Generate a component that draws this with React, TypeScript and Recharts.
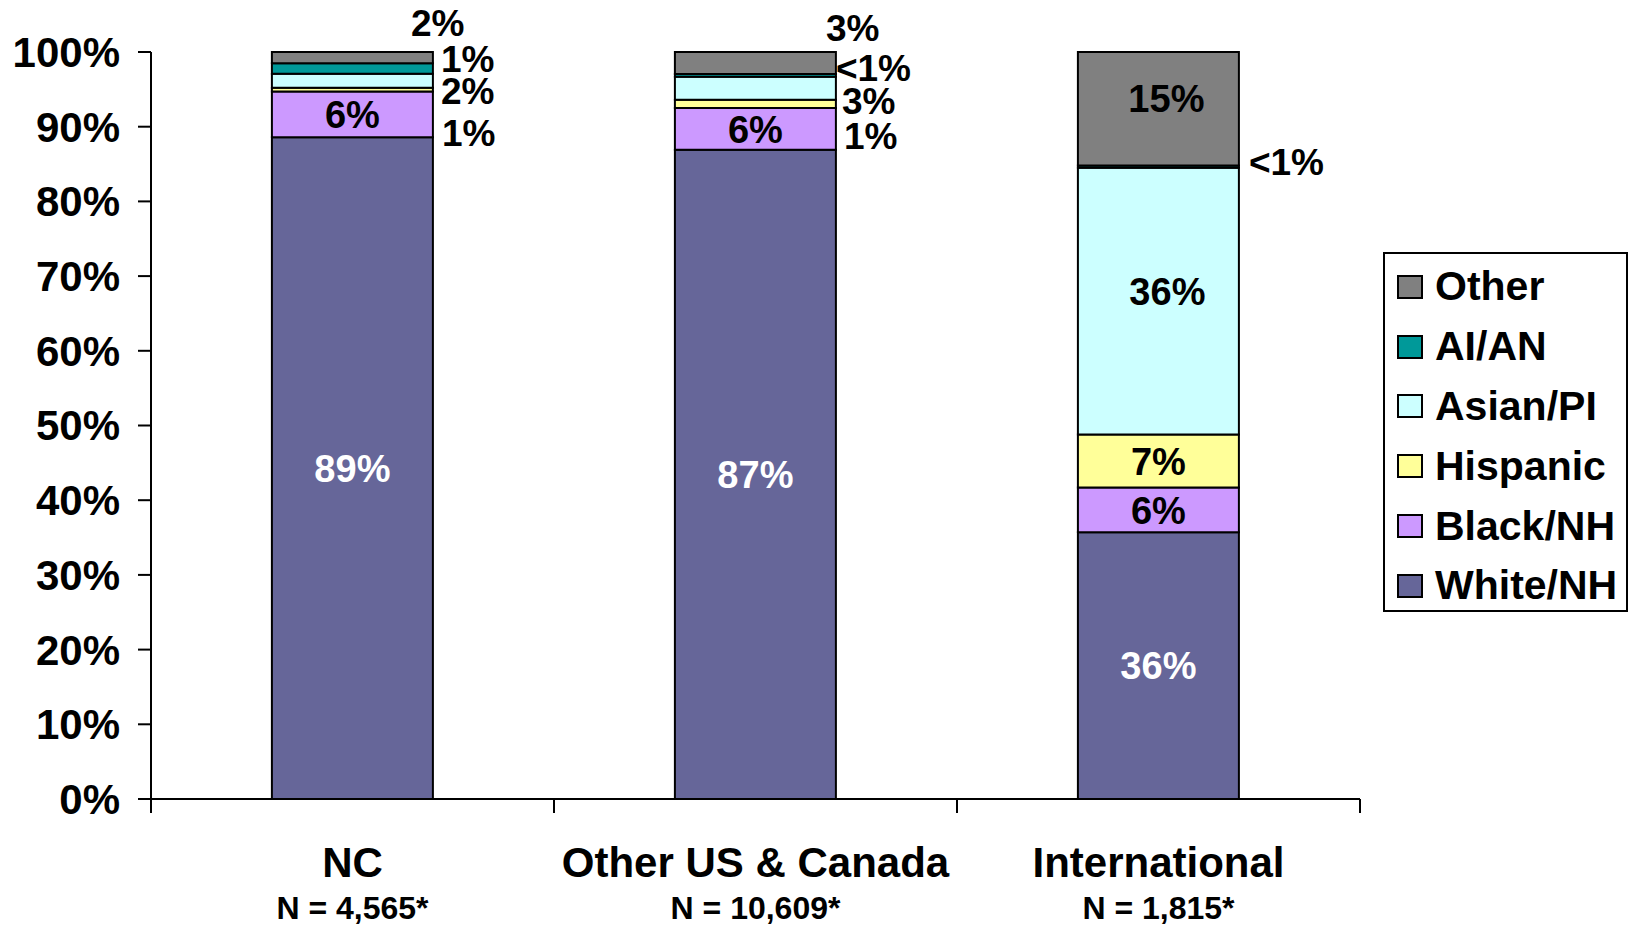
import React from 'react';
import { BarChart, Bar, XAxis, YAxis, Legend, LabelList } from 'recharts';

const categories = ['NC', 'Other US & Canada', 'International'];
const sampleSizes = ['N = 4,565*', 'N = 10,609*', 'N = 1,815*'];

// percent of students, bottom of the stack first
const whiteNH = [88.6, 86.9, 35.7];
const blackNH = [6.1, 5.6, 6.0];
const hispanic = [0.5, 1.1, 7.1];
const asianPI = [1.9, 3.1, 35.7];
const aiAN = [1.4, 0.35, 0.3];
const other = [1.5, 2.95, 15.2];

// printed data labels
const whiteText = ['89%', '87%', '36%'];
const blackText = ['6%', '6%', '6%'];
const hispanicText = ['1%', '1%', '7%'];
const asianText = ['2%', '3%', '36%'];
const aiANText = ['1%', '<1%', '<1%'];
const otherText = ['2%', '3%', '15%'];

const yTicks = [0, 10, 20, 30, 40, 50, 60, 70, 80, 90, 100];

const FONT = '"Liberation Sans", Arial, Helvetica, sans-serif';
const W = 1629;
const H = 926;
const M = { top: 52, right: 269, bottom: 0, left: 0 };
const Y_AXIS_W = 151;
const X_AXIS_H = 127;

const series = [
  { key: 'white', name: 'White/NH', color: '#666699', values: whiteNH, text: whiteText, textColor: '#fff' },
  { key: 'black', name: 'Black/NH', color: '#CC99FF', values: blackNH, text: blackText, textColor: '#000' },
  { key: 'hispanic', name: 'Hispanic', color: '#FFFF99', values: hispanic, text: hispanicText, textColor: '#000' },
  { key: 'asian', name: 'Asian/PI', color: '#CCFFFF', values: asianPI, text: asianText, textColor: '#000' },
  { key: 'aian', name: 'AI/AN', color: '#009999', values: aiAN, text: aiANText, textColor: '#000' },
  { key: 'other', name: 'Other', color: '#808080', values: other, text: otherText, textColor: '#000' },
];

// where each data label sits: inside the segment, or to the right of the bar (out)
type Place = { out?: boolean; dx: number; dy: number };
const IN: Place = { dx: 0, dy: 0 };
const labelPlace: Record<string, Place[]> = {
  white: [IN, IN, IN],
  black: [IN, IN, IN],
  hispanic: [{ out: true, dx: 9, dy: 43 }, { out: true, dx: 8, dy: 31 }, IN],
  asian: [{ out: true, dx: 8, dy: 10 }, { out: true, dx: 6, dy: 12 }, { dx: 9, dy: -10 }],
  aian: [{ out: true, dx: 8, dy: -10 }, { out: true, dx: 0, dy: -8 }, { out: true, dx: 10, dy: -5 }],
  other: [{ out: true, dx: -22, dy: -35 }, { out: true, dx: -10, dy: -36 }, { dx: 8, dy: -10 }],
};

const data = categories.map((name, i) => {
  const row: Record<string, any> = { name };
  series.forEach((s) => {
    row[s.key] = s.values[i];
  });
  return row;
});

const LABEL_FS = 38;

const makeLabel = (key: string, texts: string[], color: string) => (props: any) => {
  const vb = props.viewBox && props.viewBox.width !== undefined ? props.viewBox : props;
  const x = Number(vb.x);
  const y = Number(vb.y);
  const width = Number(vb.width);
  const height = Number(vb.height);
  const idx = props.index;
  const place = labelPlace[key][idx];
  if (!place) return null;
  const top = height < 0 ? y + height : y;
  const cy = top + Math.abs(height) / 2 + place.dy;
  const baseY = cy + LABEL_FS * 0.36;
  if (place.out) {
    return (
      <text x={x + width + place.dx} y={baseY} textAnchor="start" fill="#000"
        fontSize={LABEL_FS - 1} fontWeight="bold" fontFamily={FONT}>
        {texts[idx]}
      </text>
    );
  }
  return (
    <text x={x + width / 2 + place.dx} y={baseY} textAnchor="middle" fill={color}
      fontSize={LABEL_FS} fontWeight="bold" fontFamily={FONT}>
      {texts[idx]}
    </text>
  );
};

const plotLeft = M.left + Y_AXIS_W;
const plotRight = W - M.right;
const halfBand = (plotRight - plotLeft) / categories.length / 2;

const CategoryTick = (props: any) => {
  const { x, y, payload, index } = props;
  const i = typeof index === 'number' ? index : categories.indexOf(payload.value);
  return (
    <g>
      <line x1={x - halfBand} x2={x - halfBand} y1={y} y2={y + 14} stroke="#000" strokeWidth={2} />
      {i === categories.length - 1 && (
        <line x1={x + halfBand} x2={x + halfBand} y1={y} y2={y + 14} stroke="#000" strokeWidth={2} />
      )}
      <text x={x} y={y + 78} textAnchor="middle" fill="#000" fontSize={42} fontWeight="bold" fontFamily={FONT}>
        {payload.value}
      </text>
      <text x={x} y={y + 120} textAnchor="middle" fill="#000" fontSize={32} fontWeight="bold" fontFamily={FONT}>
        {sampleSizes[i]}
      </text>
    </g>
  );
};

const LegendBox = () => (
  <div
    style={{
      width: 245,
      height: 360,
      boxSizing: 'border-box',
      border: '2px solid #000',
      background: '#fff',
      paddingTop: 3,
      paddingLeft: 12,
      fontFamily: FONT,
    }}
  >
    {[...series].reverse().map((s) => (
      <div key={s.key} style={{ display: 'flex', alignItems: 'center', height: 59.8 }}>
        <span
          style={{
            display: 'inline-block',
            width: 26,
            height: 24,
            boxSizing: 'border-box',
            border: '2px solid #000',
            background: s.color,
            marginRight: 12,
            flexShrink: 0,
          }}
        />
        <span style={{ fontSize: 41, fontWeight: 'bold', color: '#000', whiteSpace: 'nowrap' }}>{s.name}</span>
      </div>
    ))}
  </div>
);

export default function App() {
  return (
    <div style={{ position: 'absolute', left: 0, top: 0, width: W, height: H, background: '#fff', fontFamily: FONT }}>
      <BarChart width={W} height={H} data={data} margin={M} barCategoryGap="30%">
        <YAxis
          type="number"
          domain={[0, 100]}
          ticks={yTicks}
          interval={0}
          width={Y_AXIS_W}
          tickFormatter={(v: number) => `${v}%`}
          tick={{ fill: '#000', fontSize: 42, fontWeight: 'bold', fontFamily: FONT }}
          tickSize={13}
          tickMargin={18}
          axisLine={{ stroke: '#000', strokeWidth: 2 }}
          tickLine={{ stroke: '#000', strokeWidth: 2 }}
        />
        <XAxis
          dataKey="name"
          height={X_AXIS_H}
          interval={0}
          tickLine={false}
          tickSize={0}
          tickMargin={0}
          axisLine={{ stroke: '#000', strokeWidth: 2 }}
          tick={<CategoryTick />}
        />
        <Legend
          layout="vertical"
          align="center"
          verticalAlign="middle"
          width={245}
          height={360}
          wrapperStyle={{ position: 'absolute', left: 1383, top: 252, width: 245, height: 360 }}
          content={() => <LegendBox />}
        />
        {series.map((s) => (
          <Bar
            key={s.key}
            dataKey={s.key}
            name={s.name}
            stackId="a"
            fill={s.color}
            stroke="#000"
            strokeWidth={2}
            isAnimationActive={false}
          >
            <LabelList dataKey={s.key} content={makeLabel(s.key, s.text, s.textColor)} />
          </Bar>
        ))}
      </BarChart>
    </div>
  );
}
